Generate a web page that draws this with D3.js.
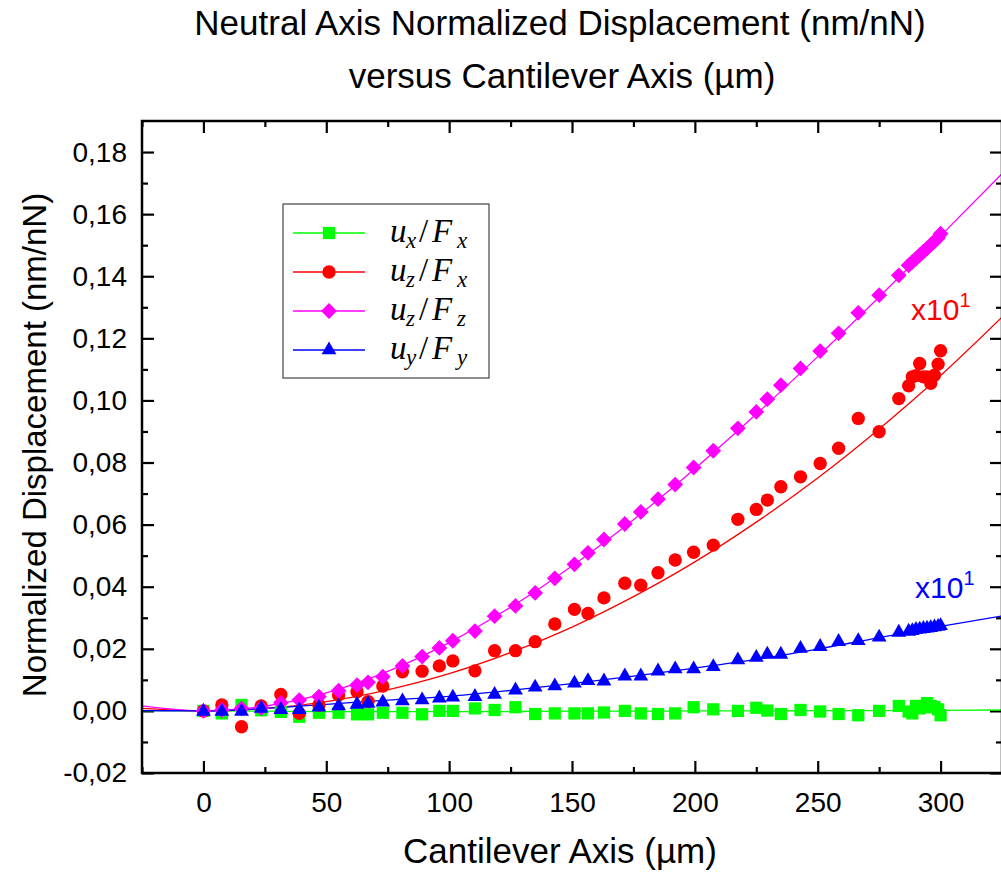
<!DOCTYPE html>
<html>
<head>
<meta charset="utf-8">
<script src="https://cdn.jsdelivr.net/npm/d3@7"></script>
<style>
  body { margin: 0; background: #fff; }
  text { font-family: "Liberation Sans", Arial, sans-serif; }
</style>
</head>
<body>
<svg id="chart" width="1001" height="872"></svg>
<script>
// positions along the cantilever (µm), shared by the four series
var xPos = [0, 7.5, 15.5, 23.5, 31.5, 39, 47, 55, 62.5, 67, 73, 81, 89, 96, 101.5,
    110.5, 118.5, 127, 135, 143, 151, 156.5, 163, 171.5, 178, 185, 192, 199.5, 207.5,
    217.5, 225, 229.5, 235, 243, 251, 258.5, 266.5, 275, 283, 287, 288.5, 290, 291.5,
    293, 294.5, 296, 297.5, 299, 300];

// u_x/F_x
var uxFx = [0, -0.0008, 0.0019, 0.0002, -0.0003, -0.0019, -0.0006, -0.0006, -0.0011, -0.0011,
    -0.0006, -0.0006, -0.0011, 0, 0, 0.0008, 0.0003, 0.0012, -0.001, -0.0008, -0.0008,
    -0.0008, -0.0005, 0, -0.0008, -0.001, -0.0008, 0.0012, 0.0005, 0, 0.001, 0.0001, -0.001,
    0.0003, -0.0002, -0.001, -0.0014, 0, 0.0016, -0.0002, -0.0008, 0.0016, 0.0008, 0.0012,
    0.0025, 0.0016, 0.0012, 0.0005, -0.0014];

// u_z/F_x (x10)
var uzFx = [0, 0.0019, -0.0051, 0.0016, 0.0053, -0.0008, 0.0019, 0.0051, 0.0062, 0.003,
    0.008, 0.0126, 0.0128, 0.0145, 0.0161, 0.0129, 0.0194, 0.0194, 0.0223, 0.028, 0.0327,
    0.0314, 0.0364, 0.0411, 0.0405, 0.0445, 0.0486, 0.0511, 0.0534, 0.0617, 0.0649, 0.0679,
    0.0722, 0.0754, 0.0797, 0.0846, 0.0942, 0.0899, 0.1006, 0.1047, 0.1076, 0.108, 0.1119,
    0.1076, 0.1076, 0.1055, 0.1081, 0.1117, 0.116];

// u_z/F_z
var uzFz = [0, 0.0003, 0.0008, 0.0009, 0.0026, 0.0035, 0.0046, 0.0065, 0.0083, 0.0092,
    0.011, 0.0145, 0.0175, 0.0203, 0.0226, 0.0257, 0.0305, 0.0338, 0.038, 0.0427, 0.0472,
    0.0509, 0.0552, 0.0602, 0.0641, 0.0682, 0.0729, 0.0784, 0.0838, 0.091, 0.0963, 0.1004,
    0.1049, 0.1103, 0.1159, 0.1216, 0.1282, 0.1339, 0.1403, 0.1435, 0.1446, 0.1457, 0.1468,
    0.1479, 0.149, 0.1501, 0.1512, 0.1524, 0.1537];

// u_y/F_y (x10)
var uyFy = [-0.0002, -0.0002, -0.0002, 0.0008, 0.0004, 0.0004, 0.0012, 0.0016, 0.0021, 0.0024,
    0.0028, 0.0032, 0.0035, 0.0041, 0.0044, 0.0046, 0.0053, 0.0067, 0.0076, 0.008, 0.0089,
    0.0097, 0.0096, 0.0112, 0.0112, 0.0128, 0.0135, 0.0135, 0.0142, 0.0164, 0.0172, 0.0182,
    0.0182, 0.0201, 0.0207, 0.0223, 0.0226, 0.0237, 0.0253, 0.0256, 0.0258, 0.0262, 0.0263,
    0.0265, 0.0266, 0.0268, 0.027, 0.0272, 0.0274];

// fitted curves
var fitX   = [-25, 0, 25, 50, 75, 100, 125, 150, 175, 200, 225, 250, 275, 300, 325];
var fitUxFx = [0.0001, 0, -0.0001, -0.0002, -0.0002, -0.0002, -0.0002, -0.0001, -0.0001, 0, 0, 0.0001, 0.0001, 0.0002, 0.0003];
var fitUzFx = [0.0008, 0, 0.0008, 0.003, 0.0068, 0.012, 0.0188, 0.027, 0.0368, 0.048, 0.0608, 0.075, 0.0908, 0.108, 0.1268];
var fitUzFz = [0.0016, 0, 0.0015, 0.0058, 0.0127, 0.022, 0.0334, 0.0467, 0.0616, 0.078, 0.0956, 0.1141, 0.1333, 0.153, 0.173];
var fitUyFy = [0.0001, 0, 0.0008, 0.0021, 0.0035, 0.0047, 0.0066, 0.0088, 0.0112, 0.0138, 0.0166, 0.0199, 0.0236, 0.0272, 0.0306];

var xTicks = [0, 50, 100, 150, 200, 250, 300];
var yTicks = [-0.02, 0, 0.02, 0.04, 0.06, 0.08, 0.10, 0.12, 0.14, 0.16, 0.18];

var series = [
    {name: "ux", sub1: "x", sub2: "x", ys: uxFx, fit: fitUxFx, color: "#00ff00", shape: "square"},
    {name: "uzx", sub1: "z", sub2: "x", ys: uzFx, fit: fitUzFx, color: "#ff0000", shape: "circle"},
    {name: "uzz", sub1: "z", sub2: "z", ys: uzFz, fit: fitUzFz, color: "#ff00ff", shape: "diamond"},
    {name: "uy", sub1: "y", sub2: "y", ys: uyFy, fit: fitUyFy, color: "#0000ff", shape: "triangle"}
];

var svg = d3.select("#chart"),
    margin = {top: 121, left: 142},
    width  = 860,
    height = 652,
    xScale = d3.scaleLinear().domain([-25, 325]).range([0, width]),
    yScale = d3.scaleLinear().domain([-0.02, 0.19]).range([height, 0]),
    g = svg.append("g").attr("transform", `translate(${margin.left},${margin.top})`);

var fmt = d => d.toFixed(2).replace(".", ",");

svg.append("defs").append("clipPath").attr("id", "plotclip")
    .append("rect").attr("width", width).attr("height", height);

function symbolFor(shape){
    if(shape == "square")   return d3.symbol().type(d3.symbolSquare).size(150)();
    if(shape == "circle")   return d3.symbol().type(d3.symbolCircle).size(140)();
    if(shape == "diamond")  return d3.symbol().type(d3.symbolSquare).size(125)();
    return d3.symbol().type(d3.symbolTriangle).size(95)();
}

// minor ticks
var xMinor = d3.range(-25, 326, 25).filter(v => xTicks.indexOf(v) < 0);
var yMinor = d3.range(-0.01, 0.19, 0.02).map(v => +v.toFixed(3));

function tickAxes(){
    g.append("g").attr("class", "axis-x")
        .attr("transform", `translate(0,${height})`)
        .call(d3.axisBottom(xScale).tickValues(xTicks).tickSizeInner(-12).tickSizeOuter(0)
            .tickPadding(19).tickFormat(d3.format("d")));
    g.append("g").attr("transform", `translate(0,${height})`)
        .call(d3.axisBottom(xScale).tickValues(xMinor).tickSizeInner(-6).tickSizeOuter(0).tickFormat(""));
    g.append("g")
        .call(d3.axisTop(xScale).tickValues(xTicks).tickSizeInner(-12).tickSizeOuter(0).tickFormat(""));
    g.append("g")
        .call(d3.axisTop(xScale).tickValues(xMinor).tickSizeInner(-6).tickSizeOuter(0).tickFormat(""));

    g.append("g").attr("class", "axis-y")
        .call(d3.axisLeft(yScale).tickValues(yTicks).tickSizeInner(-12).tickSizeOuter(0)
            .tickPadding(15).tickFormat(fmt));
    g.append("g")
        .call(d3.axisLeft(yScale).tickValues(yMinor).tickSizeInner(-6).tickSizeOuter(0).tickFormat(""));
    g.append("g").attr("transform", `translate(${width},0)`)
        .call(d3.axisRight(yScale).tickValues(yTicks).tickSizeInner(-12).tickSizeOuter(0).tickFormat(""));
    g.append("g").attr("transform", `translate(${width},0)`)
        .call(d3.axisRight(yScale).tickValues(yMinor).tickSizeInner(-6).tickSizeOuter(0).tickFormat(""));

    g.selectAll(".domain").remove();
    g.selectAll(".tick line").attr("stroke", "#000").attr("stroke-width", 2.2);
    g.selectAll(".tick text").attr("font-size", "28px").attr("fill", "#000")
        .style("font-family", "'Liberation Sans', Arial, sans-serif");
}
tickAxes();

var plot = g.append("g").attr("clip-path", "url(#plotclip)");

var line = d3.line()
    .x((d, i) => xScale(fitX[i]))
    .y(d => yScale(d))
    .curve(d3.curveMonotoneX);

series.forEach(s => {
    plot.append("path")
        .datum(s.fit)
        .attr("fill", "none")
        .attr("stroke", s.color)
        .attr("stroke-width", 1.3)
        .attr("d", line);
});

series.forEach(s => {
    plot.selectAll(".pt-" + s.name)
        .data(s.ys)
        .enter().append("path")
        .attr("class", "pt-" + s.name)
        .attr("d", symbolFor(s.shape))
        .attr("transform", (d, i) => `translate(${xScale(xPos[i])},${yScale(d)})` + (s.shape == "diamond" ? " rotate(45)" : ""))
        .attr("fill", s.color);
});

// frame
g.append("rect")
    .attr("width", width).attr("height", height)
    .attr("fill", "none").attr("stroke", "#000").attr("stroke-width", 2.5);

// legend
var legend = svg.append("g");
legend.append("rect")
    .attr("x", 283).attr("y", 204).attr("width", 206).attr("height", 174)
    .attr("fill", "#fff").attr("stroke", "#444").attr("stroke-width", 1.2);

var rowY = [233, 272, 311, 350];
series.forEach((s, i) => {
    var y = rowY[i];
    legend.append("line")
        .attr("x1", 293).attr("x2", 365).attr("y1", y).attr("y2", y)
        .attr("stroke", s.color).attr("stroke-width", 1.3);
    legend.append("path")
        .attr("d", symbolFor(s.shape))
        .attr("transform", `translate(329,${y})` + (s.shape == "diamond" ? " rotate(45)" : ""))
        .attr("fill", s.color);
    var t = legend.append("text")
        .attr("y", y + 9)
        .style("font-family", "'Liberation Serif', 'DejaVu Serif', serif")
        .attr("font-size", "33px")
        .attr("fill", "#000");
    t.append("tspan").attr("x", 390).attr("font-style", "italic").text("u");
    t.append("tspan").attr("x", 406).attr("dy", 6).attr("font-size", "23px").attr("font-style", "italic").text(s.sub1);
    t.append("tspan").attr("x", 419).attr("dy", -6).text("/");
    t.append("tspan").attr("x", 432).attr("font-style", "italic").text("F");
    t.append("tspan").attr("x", 457).attr("dy", 6).attr("font-size", "23px").attr("font-style", "italic").text(s.sub2);
});

// scale annotations
function timesTen(x, y, color){
    var t = svg.append("text").attr("x", x).attr("y", y)
        .attr("font-size", "30px").attr("fill", color);
    t.append("tspan").text("x10");
    t.append("tspan").attr("dy", -13).attr("font-size", "20px").text("1");
}
timesTen(911, 320, "#ff0000");
timesTen(915, 598, "#0000ff");

// titles
svg.append("text").attr("x", 560).attr("y", 35).attr("text-anchor", "middle")
    .attr("font-size", "35px").text("Neutral Axis Normalized Displacement (nm/nN)");
svg.append("text").attr("x", 562).attr("y", 88).attr("text-anchor", "middle")
    .attr("font-size", "35px").text("versus Cantilever Axis (µm)");
svg.append("text").attr("x", 560).attr("y", 863).attr("text-anchor", "middle")
    .attr("font-size", "35px").text("Cantilever Axis (µm)");
svg.append("text").attr("transform", "translate(46,445) rotate(-90)").attr("text-anchor", "middle")
    .attr("font-size", "33px").text("Normalized Displacement (nm/nN)");
</script>
</body>
</html>
